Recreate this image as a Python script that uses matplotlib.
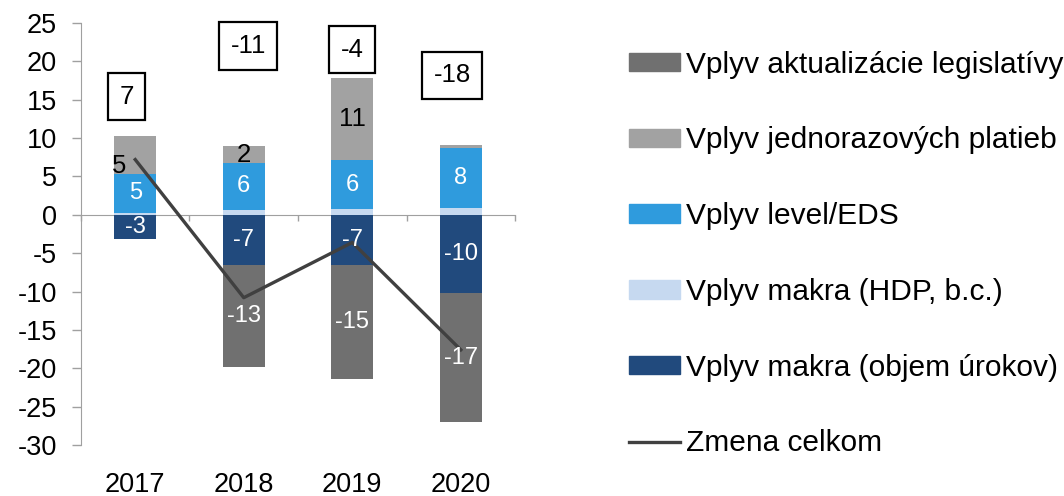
import numpy as np
import matplotlib
matplotlib.use('Agg')
import matplotlib.pyplot as plt
from matplotlib import font_manager
from matplotlib.patches import Patch
from matplotlib.lines import Line2D

# pick a narrow font if there is one
names = set(f.name for f in font_manager.fontManager.ttflist)
if 'Liberation Sans Narrow' in names:
    plt.rcParams['font.family'] = ['Liberation Sans Narrow', 'DejaVu Sans']
else:
    plt.rcParams['font.family'] = ['Liberation Sans', 'DejaVu Sans']
plt.rcParams['axes.unicode_minus'] = False

years = ['2017', '2018', '2019', '2020']

# positive part of the bars
makro_hdp = [0.3, 0.65, 0.75, 0.85]
level_eds = [5.0, 6.1, 6.4, 7.9]
jednorazove = [5.0, 2.2, 10.7, 0.4]
# negative part
makro_objem = [-3.1, -6.6, -6.6, -10.2]
legislativa = [0.0, -13.2, -14.8, -16.8]
# total change (line)
zmena = [7.2, -10.8, -3.6, -17.6]

labels = ['Vplyv aktualizácie legislatívy', 'Vplyv jednorazových platieb',
          'Vplyv level/EDS', 'Vplyv makra (HDP, b.c.)',
          'Vplyv makra (objem úrokov)', 'Zmena celkom']

c_leg = '#707070'
c_jed = '#a2a2a2'
c_lev = '#2f9bdd'
c_hdp = '#c6d9f0'
c_obj = '#214a7d'
c_line = '#404040'

fig = plt.figure(figsize=(10.64, 4.96), dpi=100)
ax = fig.add_axes([0.0761, 0.1028, 0.408, 0.8508])

x = np.arange(len(years))
w = 0.39
fs = 17
fs_tick = 19.5

hdp = np.array(makro_hdp)
lev = np.array(level_eds)
jed = np.array(jednorazove)
obj = np.array(makro_objem)
leg = np.array(legislativa)

ax.bar(x, hdp, w, color=c_hdp, zorder=2)
ax.bar(x, lev, w, bottom=hdp, color=c_lev, zorder=2)
ax.bar(x, jed, w, bottom=hdp + lev, color=c_jed, zorder=2)
ax.bar(x, obj, w, color=c_obj, zorder=2)
ax.bar(x, leg, w, bottom=obj, color=c_leg, zorder=2)

ax.plot(x, zmena, color=c_line, lw=2.4, zorder=3)

# value labels inside segments
for i in range(len(years)):
    ax.text(x[i], hdp[i] + lev[i] / 2, '%d' % round(lev[i]), color='white',
            ha='center', va='center', fontsize=fs, zorder=4)
    if jed[i] >= 1:
        dx, dy = 0, 0
        if i == 0:
            dx, dy = -0.15, -1.5
        ax.text(x[i] + dx, hdp[i] + lev[i] + jed[i] / 2 + dy, '%d' % round(jed[i]),
                color='black', ha='center', va='center', fontsize=fs + 1.5, zorder=4)
    ax.text(x[i], obj[i] / 2, '%d' % round(obj[i]), color='white',
            ha='center', va='center', fontsize=fs, zorder=4)
    if leg[i] < -1:
        ax.text(x[i], obj[i] + leg[i] / 2, '%d' % round(leg[i]), color='white',
                ha='center', va='center', fontsize=fs, zorder=4)

# boxed totals above the bars
box_y = [15.4, 22.0, 21.5, 18.2]
box_dx = [-0.08, 0.04, 0.0, -0.08]
for i in range(len(years)):
    ax.text(x[i] + box_dx[i], box_y[i], '%d' % round(zmena[i]), ha='center', va='center',
            fontsize=fs + 1.5, zorder=5,
            bbox=dict(boxstyle='square,pad=0.45', fc='white', ec='black', lw=1.6))

ax.set_xlim(-0.5, len(years) - 0.5)
ax.set_ylim(-30, 25)
ax.set_yticks(np.arange(-30, 26, 5))
ax.tick_params(axis='y', direction='out', length=6.5, width=1, color='#a0a0a0',
               labelsize=fs_tick, pad=11)

ax.spines['top'].set_visible(False)
ax.spines['right'].set_visible(False)
ax.spines['left'].set_color('#a0a0a0')
ax.spines['bottom'].set_color('#a0a0a0')
ax.spines['bottom'].set_position(('data', 0))
ax.spines['bottom'].set_zorder(1)
ax.set_xticks(np.arange(-0.5, len(years), 1.0))
ax.set_xticklabels([])
ax.tick_params(axis='x', direction='out', length=4.5, width=1, color='#a0a0a0')

for i, yr in enumerate(years):
    ax.text(x[i], -0.095, yr, transform=ax.get_xaxis_transform(),
            ha='center', va='center', fontsize=fs_tick)

handles = [Patch(color=c_leg), Patch(color=c_jed), Patch(color=c_lev),
           Patch(color=c_hdp), Patch(color=c_obj),
           Line2D([], [], color=c_line, lw=2.4)]
fig.legend(handles, labels, loc='upper left', bbox_to_anchor=(0.591, 0.898),
           frameon=False, fontsize=21.5, handlelength=1.7, handleheight=0.57,
           handletextpad=0.2, labelspacing=1.6, borderpad=0, borderaxespad=0)

fig.savefig('out.png', dpi=100)
